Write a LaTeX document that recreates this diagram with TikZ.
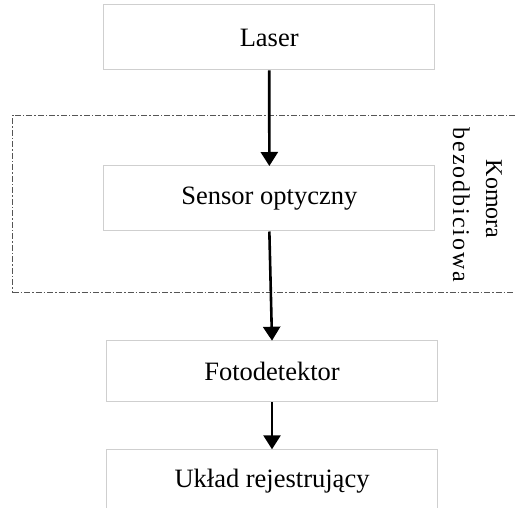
\documentclass[tikz,border=0pt]{standalone}
\usepackage{fontspec}
\setmainfont{Liberation Serif}
\usetikzlibrary{arrows.meta}
\definecolor{boxgray}{HTML}{CFCFCF}
\definecolor{chgray}{HTML}{555555}
\begin{document}
\begin{tikzpicture}[x=1pt,y=-1pt,
  every node/.style={font=\fontsize{26.5}{33}\selectfont, inner sep=0pt},
  blockbox/.style={draw=boxgray, line width=1pt, rectangle, minimum width=331pt},
  chamberbox/.style={draw=chgray, line width=0.9pt, rectangle, dash pattern=on 6pt off 2pt on 1.5pt off 2pt},
  sidelabel/.style={rotate=-90, anchor=base, font=\fontsize{24}{30}\selectfont},
  flow/.style={draw=black, line width=2.6pt, -{Triangle[width=17pt,length=14pt]}, shorten >=-0.5pt}
]
\useasboundingbox (0,0) rectangle (515,508);
\node[chamberbox, minimum width=507.5pt, minimum height=177.7pt] (chamber) at (266.25,203.85) {};
\node[blockbox, minimum height=65pt] (laser) at (269.2,37.5) {Laser};
\node[blockbox, minimum height=65pt] (sensor) at (269.35,198.5) {Sensor optyczny};
\node[blockbox, minimum width=330.6pt, minimum height=61pt] (foto) at (272,371.2) {Fotodetektor};
\node[blockbox, minimum width=330.6pt, minimum height=63pt] (uklad) at (272,480.8) {Układ rejestrujący};
\node[sidelabel] (komora) at (486,199) {Komora};
\node[sidelabel] (bezodb) at (453,205) {\addfontfeature{LetterSpace=8}bezodbiciowa};
\draw[flow] (laser.south) -- (sensor.north);
\draw[flow] (sensor.south) -- (foto.north);
\draw[flow] (foto.south) -- (uklad.north);
\end{tikzpicture}
\end{document}
